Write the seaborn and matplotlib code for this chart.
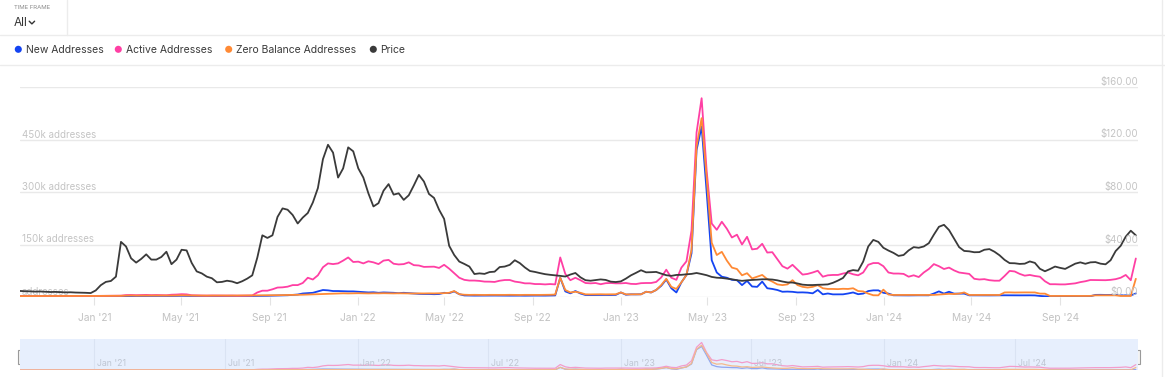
import numpy as np
import pandas as pd
import matplotlib
matplotlib.use("Agg")
import matplotlib.pyplot as plt
import matplotlib.transforms as mtransforms
from matplotlib.patches import Rectangle
from matplotlib.lines import Line2D
import seaborn as sns

# ---------------- data (weekly) ----------------
start_date = "2020-09-20"

price = [4.6, 4.4, 4.3, 4.1, 4.2, 4.0, 3.8, 3.9, 3.7, 3.5, 3.6, 3.4, 3.3, 3.2, 3.0,
         5.0, 9.0, 11.5, 12.2, 15.5, 42.0, 38.5, 29.5, 26.2, 29.0,
         32.5, 28.5, 28.5, 30.5, 34.5, 25.0, 28.5, 36.0, 35.5, 26.0,
         19.5, 18.0, 15.5, 14.3, 11.2, 11.5, 12.4, 11.8, 10.5, 12.0,
         14.0, 16.5, 30.0, 47.0, 45.0, 47.0, 61.0, 67.5, 66.5, 62.5,
         56.0, 60.5, 64.0, 72.0, 83.0, 105.0, 116.0, 110.0, 91.0, 98.0,
         114.0, 111.0, 98.0, 91.0, 79.0, 69.0, 71.5, 81.0, 86.0, 78.0,
         79.0, 74.0, 77.5, 85.0, 93.0, 88.0, 78.5, 75.5, 66.5, 59.5,
         39.0, 32.0, 27.0, 25.2, 23.2, 17.5, 18.0, 17.6, 19.0, 19.3,
         22.8, 23.2, 24.5, 28.0, 25.8, 22.5, 19.8, 19.1, 18.2, 17.4,
         16.9, 16.5, 16.1, 15.6, 17.1, 18.3, 15.0, 12.8, 12.4, 12.9,
         13.4, 13.0, 11.7, 11.4, 11.9, 14.0, 16.5, 18.4, 20.4, 18.8,
         18.9, 19.1, 17.8, 16.6, 16.1, 16.8, 16.9, 17.3, 17.6, 18.3,
         17.5, 16.6, 15.3, 14.7, 14.5, 14.0, 13.5, 12.8, 12.3, 12.7,
         13.0, 13.2, 13.5, 13.5, 13.3, 12.7, 11.8, 11.1, 11.0, 10.3,
         9.4, 9.1, 9.1, 9.3, 9.4, 9.6, 10.8, 12.5, 14.5, 19.5,
         20.5, 20.0, 27.0, 38.5, 43.5, 42.0, 37.5, 35.4, 33.6, 31.3,
         32.0, 35.5, 38.0, 37.5, 38.5, 41.0, 47.5, 53.5, 55.0, 51.0,
         44.5, 38.0, 35.1, 34.8, 34.1, 34.2, 36.0, 36.5, 34.5, 31.8,
         28.3, 25.8, 25.7, 25.2, 25.4, 27.1, 26.0, 21.5, 19.6, 21.3,
         23.2, 22.2, 21.4, 23.4, 25.4, 26.4, 25.3, 26.4, 26.6, 25.4,
         24.9, 28.0, 35.0, 39.0, 46.0, 50.5, 47.0]

active_k = [2.8, 2.9, 3.0, 2.8, 2.7, 2.9, 3.0, 3.1, 2.9, 2.8, 3.0, 3.2, 3.1, 2.9, 3.0, 3.2, 3.4, 3.3, 3.5, 3.6, 3.8,
            5.5, 5.8, 5.2, 5.6, 6.0, 5.4, 5.7, 5.5,
            5.0, 6.5, 7.0, 8.0, 7.5, 5.0,
            4.5, 4.2, 4.0, 4.3, 4.1, 3.9, 4.0, 4.2, 3.8, 4.0, 4.1, 4.3,
            13, 18, 18, 22, 27, 27.6, 29.5, 34, 34, 40,
            55, 50, 62, 85, 96, 94, 96, 104, 113, 100,
            101, 96, 102, 99, 94, 104, 106, 95, 93, 94,
            99, 91, 90, 86, 86.5, 86.7, 83, 92, 81, 68,
            55, 49, 47, 47, 46, 44, 43.8, 43, 46.5, 48.5,
            48.6, 44, 42, 39, 39, 37, 37, 36, 37, 36,
            113, 66, 48, 55, 48, 40, 39, 40, 36.5, 39.5,
            40, 39, 39, 40, 37.5, 37, 39.5, 40, 40, 43,
            56, 78, 55, 49, 84, 102, 190, 470, 568, 360,
            210, 192, 215, 195, 170, 178, 150, 172, 136, 138,
            152, 127, 128, 108, 88, 81, 92, 78, 64, 66,
            70, 75, 58, 62, 63, 63, 67, 70, 65, 62,
            70, 92, 97, 97, 88, 70, 67, 67, 66, 58,
            62, 57, 70, 80, 94, 88, 80, 84, 76, 70,
            68, 66, 52, 50, 51, 48, 46.6, 46.6, 60, 74.6,
            73, 66, 61, 63, 60, 58, 45, 36.5, 36.5, 36,
            36, 37.5, 39, 42.5, 45, 48.6, 48.3, 48, 48, 49,
            51, 55, 63, 48, 110]

new_k = [1.5, 1.6, 1.5, 1.4, 1.6, 1.5, 1.7, 1.6, 1.5, 1.6, 1.8, 1.7, 1.6, 1.8, 1.7, 1.9, 2.0, 2.2, 2.1, 2.3, 2.5,
         2.6, 2.8, 2.7, 2.9, 3.0, 2.8, 2.9, 3.1, 3.0, 2.9,
         3.2, 3.4, 3.1, 3.0, 2.9, 2.8, 3.0, 2.7, 2.8, 2.9,
         2.7, 2.8, 3.0, 2.9, 2.8, 3.0, 3.1, 3.3, 3.5, 3.8,
         4.2, 4.5, 5.0, 6.0, 7.0,
         10, 11, 12, 16, 20, 19, 17, 17, 16.5, 16,
         16, 15, 14, 13, 13.5, 12, 13, 12.5, 12, 11,
         12, 11, 10, 9, 8.6, 8.6, 8, 8.5, 12, 11,
         16, 8, 4.5, 4.2, 4.0, 4.1, 3.9, 4.0, 4.2, 4.0,
         4.1, 3.9, 4.0, 4.0, 3.8, 4.0, 4.1, 3.9, 4.0, 4.2, 4.5,
         55, 16, 10.5, 17, 10, 5.7, 5.5, 5.7, 5.8, 5.6,
         5.7, 6.0, 13, 6.5, 7.6, 7.4, 7.8, 15, 13, 20,
         32, 50, 25, 13, 42, 63, 125, 420, 487, 300,
         105, 70, 58, 55, 49, 48, 34, 46, 30, 29,
         44, 25, 23, 20, 15, 15.5, 14.8, 13, 13.2, 12.5,
         10.5, 20, 7.6, 10, 7.5, 7.7, 7.6, 10, 13, 8,
         9.7, 17, 19, 19, 12, 9.7, 4.9, 4.7, 4.8, 4.6,
         4.8, 4.9, 4.7, 4.8, 10, 16, 9.7, 15, 9.6, 9.8,
         9.7, 4.8, 4.7, 4.9, 4.8, 4.6, 4.8, 4.7, 4.9, 4.8,
         4.8, 4.7, 4.9, 4.8, 4.6, 3.0, 2.0, 2.1, 1.9, 2.0,
         2.1, 2.0, 1.9, 2.0, 2.1, 2.2, 6.0, 6.2, 5.9, 6.1,
         6.0, 4.8, 4.9, 4.7, 10]

zero_k = [2.6, 2.7, 2.8, 2.6, 2.7, 2.9, 2.8, 2.7, 2.9, 3.0, 2.8, 2.9, 3.0, 3.1, 2.9, 3.0, 3.2, 3.1, 3.3, 3.2, 3.4,
          3.8, 4.2, 3.9, 4.0, 4.3, 4.1, 4.0, 4.4, 4.2, 4.0,
          4.5, 4.8, 4.4, 4.2, 4.0, 4.1, 3.9, 4.0, 4.2, 4.1,
          3.9, 4.0, 4.1, 4.2, 4.3, 4.2, 4.4, 4.6, 4.8, 5.0,
          5.2, 5.4, 5.6, 5.8, 6.0,
          6.5, 7.0, 7.5, 8.0, 8.6, 9.0, 9.5, 10, 10.5, 10.2,
          10.5, 10.8, 10.4, 10.2, 10.6, 10.4, 10.8, 10.5, 10.3, 10.6,
          10.4, 10.2, 10.0, 10.3, 10.1, 10.4, 10.2, 10.5, 11, 12,
          17, 8, 6.5, 6.0, 6.2, 6.0, 5.8, 6.1, 6.0, 5.9,
          6.0, 6.2, 6.0, 5.8, 6.1, 6.0, 5.9, 6.0, 6.2, 6.4, 7.0,
          55, 20, 13, 15, 12, 7.6, 7.4, 7.6, 7.8, 7.5,
          7.6, 7.8, 13, 7.6, 7.5, 7.8, 7.6, 15, 13, 20,
          34, 52, 29, 23, 42, 63, 135, 430, 511, 340,
          155, 120, 129, 104, 84, 80, 62, 68, 53, 58,
          63, 51, 44, 36, 34, 36, 48, 34, 29, 27,
          29, 34, 25, 23, 23, 22.5, 23.5, 23, 25, 17,
          16, 9.7, 5.0, 4.8, 21, 7.0, 5.8, 5.9, 5.7, 5.8,
          5.9, 5.7, 5.8, 5.9, 6.0, 7.0, 8.0, 9.0, 8.5, 9.7,
          13, 5.8, 5.9, 5.7, 5.8, 5.9, 5.8, 5.7, 13, 13.2,
          12.8, 13, 13.1, 12.9, 13, 9.7, 9.6, 3.0, 3.1, 2.9,
          3.0, 3.1, 3.0, 2.9, 3.0, 3.1, 4.8, 4.9, 4.7, 4.8,
          4.8, 3.0, 3.1, 2.9, 52]

series_names = ["New Addresses", "Active Addresses", "Zero Balance Addresses", "Price"]
series_colors = ["#1444f2", "#ff3fa4", "#ff8a35", "#3a3a3a"]

x_tick_dates = ["2021-01-01", "2021-05-01", "2021-09-01", "2022-01-01", "2022-05-01", "2022-09-01",
                "2023-01-01", "2023-05-01", "2023-09-01", "2024-01-01", "2024-05-01", "2024-09-01"]
x_tick_labels = ["Jan '21", "May '21", "Sep '21", "Jan '22", "May '22", "Sep '22",
                 "Jan '23", "May '23", "Sep '23", "Jan '24", "May '24", "Sep '24"]
nav_tick_dates = ["2021-01-01", "2021-07-01", "2022-01-01", "2022-07-01",
                  "2023-01-01", "2023-07-01", "2024-01-01", "2024-07-01"]
nav_tick_labels = ["Jan '21", "Jul '21", "Jan '22", "Jul '22", "Jan '23", "Jul '23", "Jan '24", "Jul '24"]
left_ticks = [0, 150000, 300000, 450000, 600000]
left_labels = ["addresses", "150k addresses", "300k addresses", "450k addresses", ""]
right_ticks = [0, 40, 80, 120, 160]
right_labels = ["$0.00", "$40.00", "$80.00", "$120.00", "$160.00"]
x_end = "2024-12-18"

# ---------------- figure ----------------
W, H = 1165, 377
sns.set_theme(style="white")
plt.rcParams['font.family'] = ['Inter', 'DejaVu Sans']
fig = plt.figure(figsize=(W / 100, H / 100), dpi=100)
fig.patch.set_facecolor("white")


def px(x0, y0, x1, y1):
    return [x0 / W, 1 - y1 / H, (x1 - x0) / W, (y1 - y0) / H]


dates = pd.date_range(start_date, periods=len(price), freq="7D")
xlim = (dates[0], pd.Timestamp(x_end))

df = pd.DataFrame({"date": dates,
                   "New Addresses": np.array(new_k) * 1000,
                   "Active Addresses": np.array(active_k) * 1000,
                   "Zero Balance Addresses": np.array(zero_k) * 1000,
                   "Price": price})
long = df.melt(id_vars="date", value_vars=series_names[:3], var_name="series", value_name="value")
pal = dict(zip(series_names, series_colors))

# background / header layer
bg = fig.add_axes([0, 0, 1, 1])
bg.set_xlim(0, W)
bg.set_ylim(H, 0)
bg.axis("off")
line_c = "#ececec"
bg.add_line(Line2D([0, W], [35, 35], color=line_c, lw=1))
bg.add_line(Line2D([0, W], [64.5, 64.5], color=line_c, lw=1))
bg.add_line(Line2D([67, 67], [0, 35], color=line_c, lw=1))
bg.add_line(Line2D([1161.5, 1161.5], [0, H], color=line_c, lw=1))
bg.text(14, 7.5, "TIME FRAME", fontsize=4.3, color="#8a8a8a", va="center", ha="left")
bg.text(14, 22.5, "All", fontsize=8.5, color="#333333", va="center", ha="left")
bg.add_line(Line2D([29.2, 31.9, 34.6], [21.2, 23.9, 21.2], color="#333333", lw=1.0))

legend_dot_x = [18.3, 118.3, 228.7, 373.3]
for name, col, dx in zip(series_names, series_colors, legend_dot_x):
    bg.scatter([dx], [49.3], s=26, color=col, edgecolors="none")
    bg.text(dx + 7.3, 49.6, name, fontsize=7.5, color="#3a3a3a", va="center", ha="left")

# main axes
ax = fig.add_axes(px(20, 87, 1138, 297))
ax.set_facecolor("none")
ax.set_yticks(left_ticks)
ax.set_ylim(0, 600000)
ax.grid(axis="y", color="#e9e9e9", lw=1)
ax.grid(axis="x", visible=False)
sns.lineplot(data=long, x="date", y="value", hue="series", hue_order=series_names[:3],
             palette=pal, ax=ax, legend=False, linewidth=1.3)
ax.set_xlim(*xlim)
ax.set_ylim(0, 600000)
ax.set_yticklabels([])
ax.tick_params(axis="y", length=0)
ax.set_xlabel("")
ax.set_ylabel("")
for s in ax.spines.values():
    s.set_visible(False)
ax.set_xticks(pd.to_datetime(x_tick_dates))
ax.set_xticklabels(x_tick_labels)
ax.tick_params(axis="x", length=5.5, width=0.8, color="#e3e3e3", labelcolor="#c2c2c2",
               labelsize=7.3, pad=6, bottom=True)

ax2 = ax.twinx()
sns.lineplot(data=df, x="date", y="Price", ax=ax2, color=pal["Price"], linewidth=1.3)
ax2.set_ylim(0, 160)
ax2.set_xlim(*xlim)
ax2.set_yticks(right_ticks)
ax2.set_yticklabels([])
ax2.tick_params(axis="y", length=0)
ax2.set_ylabel("")
for s in ax2.spines.values():
    s.set_visible(False)

lab_c = "#c4c4c4"
off = mtransforms.offset_copy(mtransforms.blended_transform_factory(ax.transAxes, ax.transData),
                              fig=fig, x=0, y=0.0, units="dots")
for v, lab in zip(left_ticks, left_labels):
    ax.text(2 / 1118, v, lab, transform=off, fontsize=7, color=lab_c, va="bottom", ha="left")
off2 = mtransforms.offset_copy(mtransforms.blended_transform_factory(ax2.transAxes, ax2.transData),
                               fig=fig, x=0, y=0.0, units="dots")
for v, lab in zip(right_ticks, right_labels):
    ax2.text(1.0, v, lab, transform=off2, fontsize=7, color=lab_c, va="bottom", ha="right")

# navigator
nav = fig.add_axes(px(20, 339, 1138, 370))
nav.set_facecolor("#e7effd")
nav_pal = {"New Addresses": "#8fa6f0", "Active Addresses": "#f39ccb", "Zero Balance Addresses": "#f4b98c"}
for d in pd.to_datetime(nav_tick_dates):
    nav.axvline(d, color="#dae3f3", lw=0.8, zorder=0)
sns.lineplot(data=long, x="date", y="value", hue="series", hue_order=series_names[:3],
             palette=nav_pal, ax=nav, legend=False, linewidth=0.9)
nav.set_xlim(*xlim)
nav.set_ylim(0, 640000)
nav.set_xticks([])
nav.set_yticks([])
nav.set_xlabel("")
nav.set_ylabel("")
for s in nav.spines.values():
    s.set_visible(False)
nav_tr = mtransforms.blended_transform_factory(nav.transData, nav.transAxes)
for d, lab in zip(pd.to_datetime(nav_tick_dates), nav_tick_labels):
    nav.text(d + pd.Timedelta(days=4), 0.22, lab, transform=nav_tr, fontsize=6.3,
             color="#bfc6d3", va="center", ha="left")

for hx in (20.5, 1136.5):
    bg.add_patch(Rectangle((hx - 3, 349.5), 6, 14, facecolor="#f3f3f3", edgecolor="#9a9a9a", lw=0.8, zorder=5))
    bg.add_line(Line2D([hx - 0.8, hx - 0.8], [352.5, 360.5], color="#9a9a9a", lw=0.6, zorder=6))
    bg.add_line(Line2D([hx + 0.8, hx + 0.8], [352.5, 360.5], color="#9a9a9a", lw=0.6, zorder=6))

fig.savefig("out.png", dpi=100, facecolor="white")
